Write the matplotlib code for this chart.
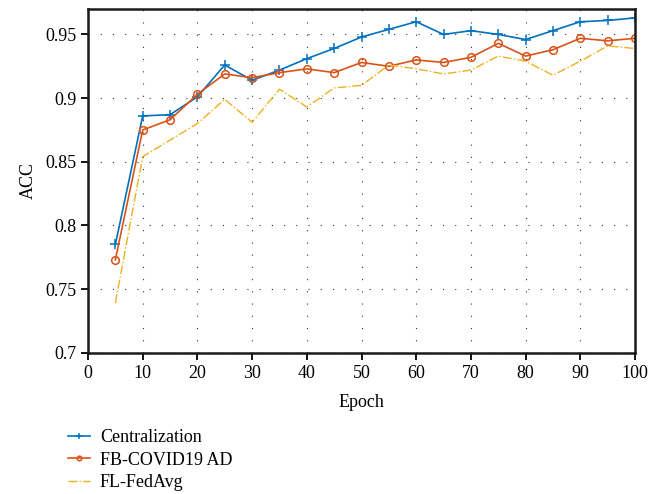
import numpy as np
import matplotlib.pyplot as plt

epochs = list(range(5, 105, 5))
centralization = [0.785, 0.886, 0.887, 0.901, 0.926, 0.914, 0.922, 0.931, 0.939, 0.948,
                  0.954, 0.960, 0.950, 0.953, 0.950, 0.946, 0.953, 0.960, 0.961, 0.963]
fb_covid = [0.773, 0.875, 0.883, 0.903, 0.919, 0.916, 0.920, 0.923, 0.920, 0.928,
            0.925, 0.930, 0.928, 0.932, 0.943, 0.933, 0.938, 0.947, 0.945, 0.947]
fl_fedavg = [0.739, 0.854, 0.867, 0.880, 0.899, 0.881, 0.907, 0.893, 0.908, 0.910,
             0.926, 0.923, 0.919, 0.922, 0.933, 0.929, 0.918, 0.929, 0.941, 0.939]
labels = ['Centralization', 'FB-COVID19 AD', 'FL-FedAvg']
yticks = [0.7, 0.75, 0.8, 0.85, 0.9, 0.95]
ytick_labels = ['0.7', '0.75', '0.8', '0.85', '0.9', '0.95']
xticks = list(range(0, 101, 10))

plt.rcParams['font.family'] = ['Liberation Serif', 'DejaVu Serif']

fig = plt.figure(figsize=(6.68, 4.94), dpi=100)
ax = fig.add_axes([88/668, 1-352.7/494, (635-88)/668, (352.7-9)/494])

ax.plot(epochs, centralization, color='#0072BD', lw=1.2, marker='+', ms=7, mew=1.1, label=labels[0])
ax.plot(epochs, fb_covid, color='#D95319', lw=1.2, marker='o', ms=5.5, mfc='none', mew=1.1, label=labels[1])
ax.plot(epochs, fl_fedavg, color='#EDB120', lw=1.0, ls='-.', label=labels[2])

ax.set_xlim(0, 100)
ax.set_ylim(0.7, 0.97)
ax.set_xticks(xticks)
ax.set_yticks(yticks)
ax.set_yticklabels(ytick_labels)
ax.tick_params(direction='out', length=5, width=1.3, labelsize=13, top=False, right=False)
for s in ax.spines.values():
    s.set_linewidth(1.8)
    s.set_color('#1a1a1a')
ax.grid(True, color='#333333', lw=0.8, ls=(0, (1, 10)))
ax.set_xlabel('Epoch', fontsize=13, labelpad=9)
ax.set_ylabel('ACC', fontsize=13, labelpad=6)

fig.legend(loc='upper left', bbox_to_anchor=(52/668, 1-413/494), frameon=False,
           fontsize=13, handlelength=1.2, handletextpad=0.55, labelspacing=0.3,
           markerscale=0.6)

fig.savefig('out.png', dpi=100)
